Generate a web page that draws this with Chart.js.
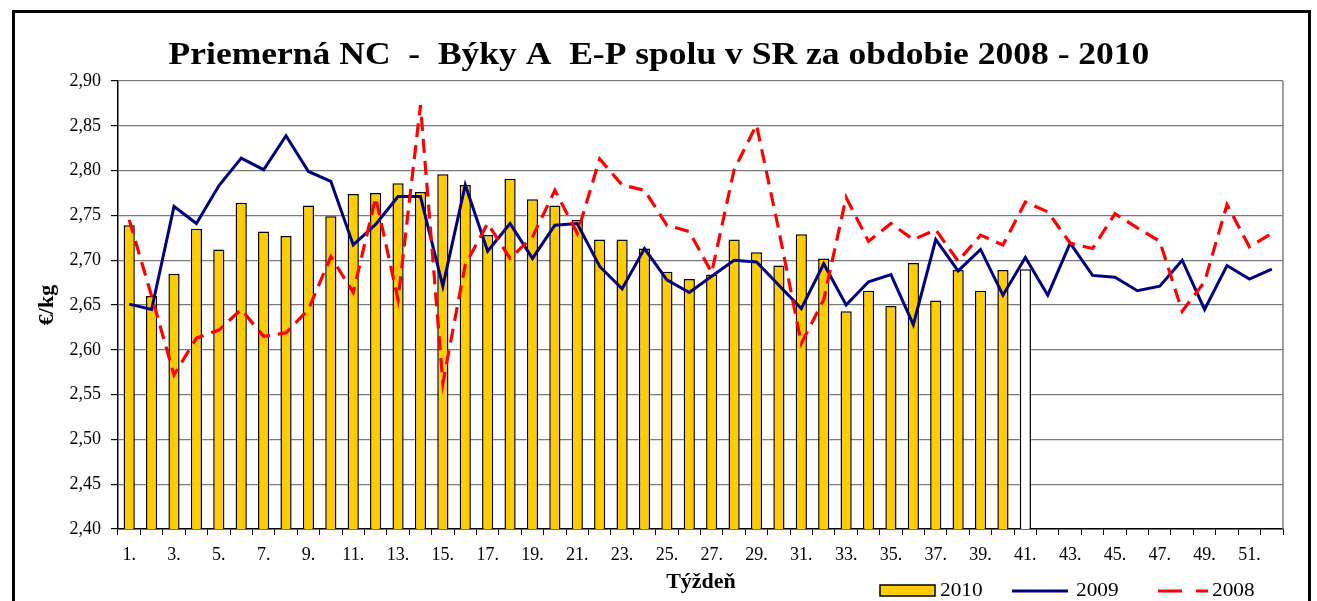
<!DOCTYPE html>
<html lang="sk">
<head>
<meta charset="utf-8">
<title>Priemerná NC - Býky A E-P</title>
<script src="https://cdn.jsdelivr.net/npm/chart.js"></script>
<style>
    html, body { margin: 0; padding: 0; background: #fff; }
    #wrap { position: relative; width: 1317px; height: 601px; }
</style>
</head>
<body>
<div id="wrap">
    <canvas id="myChart" width="1317" height="601"></canvas>
</div>
<script>
    // týždne
    const weeks = ['1.', '2.', '3.', '4.', '5.', '6.', '7.', '8.', '9.', '10.',
        '11.', '12.', '13.', '14.', '15.', '16.', '17.', '18.', '19.', '20.',
        '21.', '22.', '23.', '24.', '25.', '26.', '27.', '28.', '29.', '30.',
        '31.', '32.', '33.', '34.', '35.', '36.', '37.', '38.', '39.', '40.',
        '41.', '42.', '43.', '44.', '45.', '46.', '47.', '48.', '49.', '50.',
        '51.', '52.'];

    // 2010 - stĺpce (41. týždeň je biely)
    const data2010 = [2.739, 2.660, 2.685, 2.735, 2.712, 2.764, 2.732, 2.727, 2.761, 2.749,
        2.774, 2.775, 2.786, 2.776, 2.796, 2.784, 2.728, 2.791, 2.768, 2.761,
        2.745, 2.723, 2.723, 2.713, 2.687, 2.679, 2.684, 2.723, 2.709, 2.694,
        2.729, 2.702, 2.643, 2.666, 2.649, 2.697, 2.655, 2.689, 2.666, 2.689,
        2.690];

    // 2009 - plná čiara
    const data2009 = [2.651, 2.645, 2.760, 2.741, 2.783, 2.814, 2.801, 2.839, 2.799, 2.788,
        2.717, 2.740, 2.771, 2.771, 2.671, 2.784, 2.710, 2.741, 2.702, 2.739,
        2.741, 2.693, 2.668, 2.713, 2.678, 2.664, 2.682, 2.700, 2.698, 2.672,
        2.646, 2.696, 2.650, 2.676, 2.684, 2.628, 2.723, 2.688, 2.712, 2.661,
        2.703, 2.661, 2.719, 2.683, 2.681, 2.666, 2.671, 2.700, 2.645, 2.694,
        2.679, 2.690];

    // 2008 - prerušovaná čiara
    const data2008 = [2.745, 2.660, 2.572, 2.613, 2.622, 2.645, 2.615, 2.619, 2.645, 2.704,
        2.664, 2.770, 2.656, 2.873, 2.563, 2.695, 2.741, 2.702, 2.726, 2.778,
        2.730, 2.813, 2.784, 2.778, 2.739, 2.732, 2.686, 2.801, 2.851, 2.733,
        2.607, 2.656, 2.770, 2.721, 2.741, 2.723, 2.734, 2.699, 2.728, 2.717,
        2.765, 2.754, 2.719, 2.713, 2.752, 2.736, 2.721, 2.643, 2.676, 2.762,
        2.715, 2.730];

    const yMin = 2.40;
    const yMax = 2.90;
    const yStep = 0.05;

    const titleText = 'Priemerná NC  -  Býky A  E-P spolu v SR za obdobie 2008 - 2010';
    const serif = "'Liberation Serif', 'Times New Roman', serif";
    const gold = '#FFCC00';

    // farby stĺpcov - posledný (neúplný) týždeň biely
    const barColors = data2010.map((v, i) => i === data2010.length - 1 ? '#FFFFFF' : gold);

    // text trochu roztiahnutý do šírky ako v origináli
    function wideText(ctx, text, x, y, sx) {
        ctx.save();
        ctx.translate(x, y);
        ctx.scale(sx, 1);
        ctx.fillText(text, 0, 0);
        ctx.restore();
    }

    // rámček, nadpis, pravý okraj plochy, popis osi x a legenda
    const extras = {
        id: 'extras',
        afterDraw(chart) {
            const ctx = chart.ctx;
            const area = chart.chartArea;
            ctx.save();

            // pravý okraj plochy grafu
            ctx.strokeStyle = '#808080';
            ctx.lineWidth = 1.5;
            ctx.beginPath();
            ctx.moveTo(area.right, area.top);
            ctx.lineTo(area.right, area.bottom);
            ctx.stroke();

            // vonkajší rámček
            ctx.strokeStyle = '#000';
            ctx.lineWidth = 3;
            ctx.strokeRect(13.5, 11.5, 1296, 700);

            // nadpis
            ctx.fillStyle = '#000';
            ctx.textAlign = 'center';
            ctx.textBaseline = 'alphabetic';
            ctx.font = 'bold 32px ' + serif;
            wideText(ctx, titleText, 659, 64, 1.11);

            // názov osi x
            ctx.textBaseline = 'middle';
            ctx.font = 'bold 20px ' + serif;
            wideText(ctx, 'Týždeň', 701, 583, 1.1);

            // legenda
            const ly = 591;
            ctx.font = '19px ' + serif;
            ctx.textAlign = 'left';

            ctx.fillStyle = gold;
            ctx.fillRect(880, 585, 55, 11);
            ctx.strokeStyle = '#000';
            ctx.lineWidth = 1.5;
            ctx.strokeRect(880, 585, 55, 11);
            ctx.fillStyle = '#000';
            wideText(ctx, chart.data.datasets[2].label, 940, ly, 1.12);

            ctx.strokeStyle = '#000080';
            ctx.lineWidth = 3;
            ctx.beginPath();
            ctx.moveTo(1012, ly);
            ctx.lineTo(1068, ly);
            ctx.stroke();
            wideText(ctx, chart.data.datasets[1].label, 1076, ly, 1.12);

            ctx.strokeStyle = '#FF0000';
            ctx.setLineDash([24, 14]);
            ctx.beginPath();
            ctx.moveTo(1158, ly);
            ctx.lineTo(1208, ly);
            ctx.stroke();
            ctx.setLineDash([]);
            wideText(ctx, chart.data.datasets[0].label, 1212, ly, 1.12);

            ctx.restore();
        }
    };

    new Chart(document.getElementById('myChart'), {
        type: 'bar',
        data: {
            labels: weeks,
            datasets: [{
                type: 'line',
                label: '2008',
                data: data2008,
                borderColor: '#FF0000',
                borderWidth: 3.2,
                borderDash: [14, 8],
                pointRadius: 0,
                tension: 0,
                order: 1
            }, {
                type: 'line',
                label: '2009',
                data: data2009,
                borderColor: '#000080',
                borderWidth: 3,
                pointRadius: 0,
                tension: 0,
                order: 2
            }, {
                label: '2010',
                data: data2010,
                backgroundColor: barColors,
                borderColor: '#000',
                borderWidth: 1.5,
                categoryPercentage: 1,
                barPercentage: 0.5,
                order: 3
            }]
        },
        options: {
            responsive: false,
            animation: false,
            layout: {
                padding: { left: 20, right: 34, top: 81, bottom: 0 }
            },
            plugins: {
                legend: { display: false },
                tooltip: { enabled: false },
                title: { display: false }
            },
            scales: {
                x: {
                    grid: {
                        display: true,
                        drawOnChartArea: false,
                        drawTicks: true,
                        tickLength: 6,
                        tickColor: '#000'
                    },
                    border: { display: true, color: '#000', width: 1.5 },
                    ticks: {
                        autoSkip: false,
                        maxRotation: 0,
                        padding: 9,
                        color: '#000',
                        font: { family: serif, size: 18 },
                        callback: function (value, index) {
                            return index % 2 === 0 ? weeks[index] : '';
                        }
                    },
                    afterFit: function (scale) {
                        scale.height = 72;
                    }
                },
                y: {
                    min: yMin,
                    max: yMax,
                    grid: {
                        color: '#7a7a7a',
                        lineWidth: 1.2,
                        tickLength: 7,
                        tickColor: '#000'
                    },
                    border: { display: true, color: '#000', width: 1.5 },
                    ticks: {
                        stepSize: yStep,
                        color: '#000',
                        padding: 10,
                        font: { family: serif, size: 18 },
                        callback: function (value) {
                            return value.toFixed(2).replace('.', ',');
                        }
                    },
                    title: {
                        display: true,
                        text: '€/kg',
                        color: '#000',
                        font: { family: serif, size: 22, weight: 'bold' },
                        padding: { top: 14, bottom: 0 }
                    },
                    afterFit: function (scale) {
                        scale.width = 98;
                    }
                }
            }
        },
        plugins: [extras]
    });
</script>
</body>
</html>
